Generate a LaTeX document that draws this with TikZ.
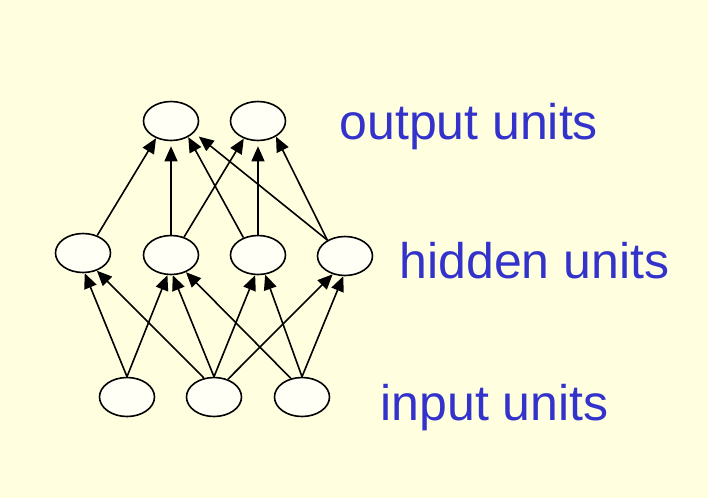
\documentclass[tikz,border=0pt]{standalone}
\usepackage{fontspec}
\setmainfont{Liberation Sans}
\usetikzlibrary{arrows.meta,shapes.geometric}
\definecolor{paper}{RGB}{255,255,224}
\definecolor{unitfill}{RGB}{255,255,246}
\definecolor{labelblue}{RGB}{51,51,204}

\begin{document}
\begin{tikzpicture}[x=1pt,y=-1pt,>={Triangle[length=15pt,width=13pt]},
  unit/.style={draw,ellipse,line width=1.6pt,fill=unitfill,
    minimum width=55pt,minimum height=39pt,inner sep=0pt},
  link/.style={->,line width=1.6pt},
  layer/.style={anchor=base west,text=labelblue,
    font=\fontsize{50}{60}\selectfont}]
\fill[paper] (0,0) rectangle (708,498);
% units
\node[unit] (O1) at (171,121) {};
\node[unit] (O2) at (258,121) {};
\node[unit] (H1) at (83,253) {};
\node[unit] (H2) at (171,255) {};
\node[unit] (H3) at (258,255) {};
\node[unit] (H4) at (345,256) {};
\node[unit] (I1) at (127,397) {};
\node[unit] (I2) at (214,397) {};
\node[unit] (I3) at (302,397) {};
% input to hidden
\draw[link] (I1.north) -- (H1.-85);
\draw[link] (I1.north) -- (H2.-100);
\draw[link] (I2.118) -- (H1.-52);
\draw[link] (I2.north) -- (H2.-85);
\draw[link] (I2.north) -- (H3.-98);
\draw[link] (I2.52) -- (H4.-124);
\draw[link] (I3.121) -- (H2.-49);
\draw[link] (I3.north) -- (H3.-70);
\draw[link] (I3.north) -- (H4.-95);
% hidden to output
\draw[link] (H1.51) -- (O1.-131);
\draw[link,shorten >=5pt] (H2.north) -- (O1.south);
\draw[link] (H2.54) -- (O2.-129);
\draw[link] (H3.130) -- (O1.-43);
\draw[link,shorten >=5pt] (H3.north) -- (O2.south);
\draw[link,shorten >=6pt] (H4.138) -- (O1.-27);
\draw[link] (H4.138) -- (O2.-41);
% labels
\node[layer] (outlabel) at (336,139) {output units};
\node[layer] (hidlabel) at (396,278) {hidden units};
\node[layer] (inlabel) at (377,420) {input units};
\end{tikzpicture}
\end{document}
